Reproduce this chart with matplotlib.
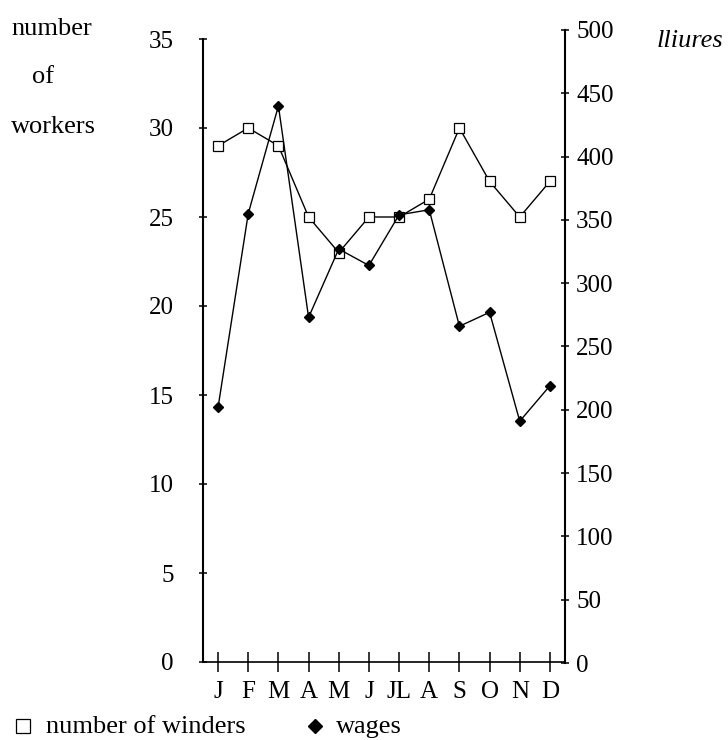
import matplotlib
matplotlib.use("Agg")
import matplotlib.pyplot as plt
from matplotlib.lines import Line2D

# Data
months = ["J", "F", "M", "A", "M", "J", "JL", "A", "S", "O", "N", "D"]
winders = [29, 30, 29, 25, 23, 25, 25, 26, 30, 27, 25, 27]
wages = [202, 355, 440, 273, 327, 314, 354, 358, 266, 277, 191, 219]
left_ticks = [0, 5, 10, 15, 20, 25, 30, 35]
right_ticks = [0, 50, 100, 150, 200, 250, 300, 350, 400, 450, 500]

plt.rcParams["font.family"] = ["Liberation Serif", "DejaVu Serif"]
FS = 18
TFS = 19
W, H = 728, 740

fig = plt.figure(figsize=(W / 100, H / 100), dpi=100)


def box(x0, x1, ytop, ybot):
    return [x0 / W, (H - ybot) / H, (x1 - x0) / W, (ybot - ytop) / H]


def fx(px):
    return px / W


def fy(py):
    return 1 - py / H


ax = fig.add_axes(box(203, 565, 39, 662))
ax2 = fig.add_axes(box(203, 565, 30, 663))

x = list(range(len(months)))

# number of winders (left axis)
ax.plot(x, winders, color="black", lw=1.0, marker="s", ms=7.4,
        mfc="white", mec="black", mew=0.9, zorder=3)
ax.set_xlim(-0.5, 11.5)
ax.set_ylim(0, 35)
ax.set_xticks(x)
ax.set_xticklabels(months)
ax.set_yticks(left_ticks)
for s in ("top", "right"):
    ax.spines[s].set_visible(False)
ax.spines["left"].set_linewidth(1.5)
ax.spines["bottom"].set_linewidth(1.2)
ax.tick_params(axis="x", direction="inout", length=14, width=1.1, pad=7,
               labelsize=FS)
ax.tick_params(axis="y", direction="inout", length=6, width=1.1, pad=18,
               labelsize=FS)

# wages (right axis)
ax2.patch.set_visible(False)
ax2.plot(x, wages, color="black", lw=1.0, marker="D", ms=5.4,
         mfc="black", mec="black", zorder=4)
ax2.set_xlim(-0.5, 11.5)
ax2.set_ylim(0, 500)
ax2.set_xticks([])
ax2.set_yticks(right_ticks)
ax2.yaxis.tick_right()
for s in ("top", "left", "bottom"):
    ax2.spines[s].set_visible(False)
ax2.spines["right"].set_linewidth(1.5)
ax2.tick_params(axis="y", direction="inout", length=6, width=1.1, pad=5,
                labelsize=FS)

# axis titles
fig.text(fx(11), fy(35), "number", ha="left", va="baseline", fontsize=TFS)
fig.text(fx(32), fy(83), "of", ha="left", va="baseline", fontsize=TFS)
fig.text(fx(11), fy(133), "workers", ha="left", va="baseline", fontsize=TFS)
fig.text(fx(657), fy(47), "lliures", ha="left", va="baseline",
         fontsize=TFS, style="italic")

# key at the bottom
fig.add_artist(Line2D([fx(22.5)], [fy(726)], transform=fig.transFigure,
                      ls="none", marker="s", ms=10.5, mfc="white",
                      mec="black", mew=0.9))
fig.text(fx(46), fy(733), "number of winders", ha="left", va="baseline",
         fontsize=TFS)
fig.add_artist(Line2D([fx(315)], [fy(726)], transform=fig.transFigure,
                      ls="none", marker="D", ms=7.3, mfc="black", mec="black"))
fig.text(fx(336), fy(733), "wages", ha="left", va="baseline", fontsize=TFS)

fig.savefig("out.png", dpi=100)
